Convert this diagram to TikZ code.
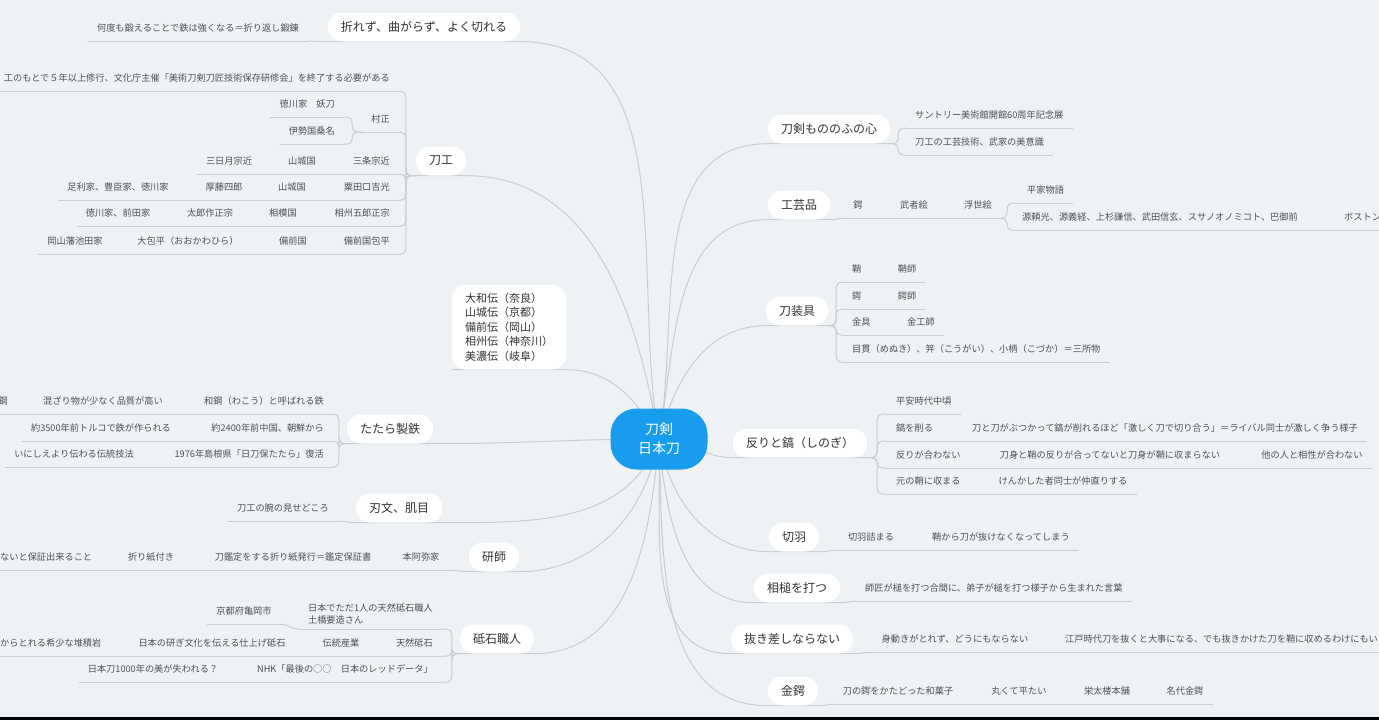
\documentclass[tikz,border=0pt]{standalone}
\usepackage{fontspec}
\setmainfont{Noto Sans CJK JP}
\usepackage{xcolor}
\usepackage{tikz}
\usetikzlibrary{positioning, backgrounds}

\definecolor{bgcol}{RGB}{238,242,245}
\definecolor{linecol}{RGB}{200,205,210}
\definecolor{leaftext}{RGB}{80,80,80}
\definecolor{topictext}{RGB}{50,50,50}
\definecolor{rootblue}{RGB}{24,157,238}

\begin{document}
\begin{tikzpicture}[x=1pt, y=-1pt,
    link/.style={draw=linecol, line width=1pt},
    brace/.style={link, rounded corners=5pt},
    root/.style={fill=rootblue, text=white, rounded corners=26pt, minimum width=97pt, minimum height=61pt, align=center, font=\fontsize{14}{19}\selectfont},
    topic/.style={fill=white, text=topictext, rounded corners=14pt, minimum height=29pt, inner xsep=13pt, inner ysep=0pt, font=\fontsize{12}{14}\selectfont},
    leaf/.style={text=leaftext, minimum height=26pt, inner xsep=9pt, inner ysep=0pt, font=\fontsize{9.2}{11.5}\selectfont,
      append after command={(\tikzlastnode.south west) edge[link] (\tikzlastnode.south east)}}]
          \useasboundingbox (0,0) rectangle (1379,720);
          \begin{scope}[on background layer]
            \fill[bgcol] (0,0) rectangle (1379,720);
          \end{scope}

          \node[root] (root) at (659,439) {刀剣\\日本刀};

          \node[topic] (orezu) at (424,27) {折れず、曲がらず、よく切れる};
          \node[leaf] (tanren) at (198,28) {何度も鍛えることで鉄は強くなる＝折り返し鍛錬};

          \node[topic] (toko) at (441,161) {刀工};
          \node[leaf, anchor=east] (shugyo) at (399,78) {工のもとで５年以上修行、文化庁主催「美術刀剣刀匠技術保存研修会」を終了する必要がある};
          \node[leaf, anchor=east] (muramasa) at (399,119) {村正};
          \node[leaf, anchor=east] (yoto) at (344,104) {徳川家　妖刀};
          \node[leaf, anchor=east] (kuwana) at (344,131) {伊勢国桑名};
          \node[leaf, anchor=east] (sanjo) at (399,161) {三条宗近};
          \node[leaf] (yamashiro) at (302,161) {山城国};
          \node[leaf] (mikazuki) at (229,161) {三日月宗近};
          \node[leaf, anchor=east] (awataguchi) at (399,187) {粟田口吉光};
          \node[leaf] (yamashiroB) at (292,187) {山城国};
          \node[leaf] (toshiro) at (224,187) {厚藤四郎};
          \node[leaf] (ashikaga) at (118,187) {足利家、豊臣家、徳川家};
          \node[leaf, anchor=east] (masamune) at (399,213) {相州五郎正宗};
          \node[leaf] (sagami) at (283,213) {相模国};
          \node[leaf] (tarosaku) at (210,213) {太郎作正宗};
          \node[leaf] (maeda) at (118,213) {徳川家、前田家};
          \node[leaf, anchor=east] (kanehira) at (399,241) {備前国包平};
          \node[leaf] (bizen) at (293,241) {備前国};
          \node[leaf] (okanehira) at (188,241) {大包平（おおかわひら）};
          \node[leaf] (ikeda) at (75,241) {岡山藩池田家};

          \node[topic, align=left, font=\fontsize{11}{14.5}\selectfont, minimum height=85pt] (gokaden) at (509,327) {大和伝（奈良）\\山城伝（京都）\\備前伝（岡山）\\相州伝（神奈川）\\美濃伝（岐阜）};

          \node[topic] (tatara) at (390,429) {たたら製鉄};
          \node[leaf, anchor=east] (wako) at (333,401) {和鋼（わこう）と呼ばれる鉄};
          \node[leaf] (hinshitsu) at (103,401) {混ざり物が少なく品質が高い};
          \node[leaf, anchor=east] (hagane) at (17,401) {鋼};
          \node[leaf, anchor=east] (chugoku) at (333,428) {約2400年前中国、朝鮮から};
          \node[leaf] (turkey) at (101,428) {約3500年前トルコで鉄が作られる};
          \node[leaf, anchor=east] (fukkatsu) at (333,454) {1976年島根県「日刀保たたら」復活};
          \node[leaf] (dento) at (74,454) {いにしえより伝わる伝統技法};

          \node[topic] (hamon) at (399,508) {刃文、肌目};
          \node[leaf] (misedokoro) at (283,508) {刀工の腕の見せどころ};

          \node[topic] (togishi) at (494,557) {研師};
          \node[leaf] (honami) at (421,557) {本阿弥家};
          \node[leaf] (kanteisho) at (293,557) {刀鑑定をする折り紙発行＝鑑定保証書};
          \node[leaf] (origami) at (151,557) {折り紙付き};
          \node[leaf, anchor=west] (hosho) at (-9,557) {ないと保証出来ること};

          \node[topic] (toishi) at (497,639) {砥石職人};
          \node[leaf, anchor=east, align=left, minimum height=30pt] (tsuchihashi) at (442,614) {日本でただ1人の天然砥石職人\\土橋要造さん};
          \node[leaf] (kameoka) at (244,611) {京都府亀岡市};
          \node[leaf, anchor=east] (tennen) at (442,643) {天然砥石};
          \node[leaf] (sangyo) at (341,643) {伝統産業};
          \node[leaf] (shiage) at (212,643) {日本の研ぎ文化を伝える仕上げ砥石};
          \node[leaf, anchor=west] (taisekigan) at (-9,643) {からとれる希少な堆積岩};
          \node[leaf, anchor=east] (nhk) at (442,669) {NHK「最後の○○　日本のレッドデータ」};
          \node[leaf] (ushinawareru) at (153,669) {日本刀1000年の美が失われる？};

          \node[topic] (mononofu) at (829,129) {刀剣もののふの心};
          \node[leaf, anchor=west] (suntory) at (906,115) {サントリー美術館開館60周年記念展};
          \node[leaf, anchor=west] (bigaku) at (906,142) {刀工の工芸技術、武家の美意識};

          \node[topic] (kogeihin) at (799,205) {工芸品};
          \node[leaf] (tsubaA) at (858,205) {鍔};
          \node[leaf] (mushae) at (914,205) {武者絵};
          \node[leaf] (ukiyoe) at (978,205) {浮世絵};
          \node[leaf, anchor=west] (heike) at (1018,190) {平家物語};
          \node[leaf, anchor=west] (eiyu) at (1013,217) {源頼光、源義経、上杉謙信、武田信玄、スサノオノミコト、巴御前};
          \node[leaf, anchor=west] (boston) at (1335,217) {ボストン};

          \node[topic] (tosogu) at (797,311) {刀装具};
          \node[leaf, anchor=west] (saya) at (843,269) {鞘};
          \node[leaf] (sayashi) at (907,269) {鞘師};
          \node[leaf, anchor=west] (tsubaB) at (843,296) {鍔};
          \node[leaf] (tsubashi) at (907,296) {鍔師};
          \node[leaf, anchor=west] (kanagu) at (843,322) {金具};
          \node[leaf] (kinkoshi) at (921,322) {金工師};
          \node[leaf, anchor=west] (mitokoro) at (843,349) {目貫（めぬき）、笄（こうがい）、小柄（こづか）＝三所物};

          \node[topic] (sori) at (800,443) {反りと鎬（しのぎ）};
          \node[leaf, anchor=west] (heian) at (887,401) {平安時代中頃};
          \node[leaf, anchor=west] (shinogi) at (887,428) {鎬を削る};
          \node[leaf] (kezuru) at (1165,428) {刀と刀がぶつかって鎬が削れるほど「激しく刀で切り合う」＝ライバル同士が激しく争う様子};
          \node[leaf, anchor=west] (soriga) at (887,455) {反りが合わない};
          \node[leaf] (osamaranai) at (1110,455) {刀身と鞘の反りが合ってないと刀身が鞘に収まらない};
          \node[leaf] (aisho) at (1312,455) {他の人と相性が合わない};
          \node[leaf, anchor=west] (motonosaya) at (887,481) {元の鞘に収まる};
          \node[leaf] (nakanaori) at (1063,481) {けんかした者同士が仲直りする};

          \node[topic] (seppa) at (794,537) {切羽};
          \node[leaf] (seppatsumaru) at (871,537) {切羽詰まる};
          \node[leaf] (nukenaku) at (1001,537) {鞘から刀が抜けなくなってしまう};

          \node[topic] (aizuchi) at (797,588) {相槌を打つ};
          \node[leaf, anchor=west] (kotoba) at (856,588) {師匠が槌を打つ合間に、弟子が槌を打つ様子から生まれた言葉};

          \node[topic] (nukisashi) at (792,639) {抜き差しならない};
          \node[leaf] (miugoki) at (955,639) {身動きがとれず、どうにもならない};
          \node[leaf, anchor=west] (edo) at (1056,639) {江戸時代刀を抜くと大事になる、でも抜きかけた刀を鞘に収めるわけにもい};

          \node[topic] (kintsuba) at (793,691) {金鍔};
          \node[leaf] (wagashi) at (898,691) {刀の鍔をかたどった和菓子};
          \node[leaf] (hiratai) at (1019,691) {丸くて平たい};
          \node[leaf] (eitaro) at (1107,691) {栄太楼本舗};
          \node[leaf] (nadai) at (1185,691) {名代金鍔};

          \begin{scope}[on background layer]
            \draw[link] (root.center) to[out=100, in=0] (orezu.south east) -- (orezu.south west);
            \draw[link] (root.center) to[out=100, in=0] (toko.south east) -- (toko.south west);
            \draw[link] (root.center) to[out=120, in=0] (gokaden.south east) -- (gokaden.south west);
            \draw[link] (root.center) to[out=180, in=0] (tatara.south east) -- (tatara.south west);
            \draw[link] (root.center) to[out=250, in=0] (hamon.south east) -- (hamon.south west);
            \draw[link] (root.center) to[out=260, in=0] (togishi.south east) -- (togishi.south west);
            \draw[link] (root.center) to[out=265, in=0] (toishi.south east) -- (toishi.south west);
            \draw[link] (root.center) to[out=80, in=180] (mononofu.south west) -- (mononofu.south east);
            \draw[link] (root.center) to[out=80, in=180] (kogeihin.south west) -- (kogeihin.south east);
            \draw[link] (root.center) to[out=75, in=180] (tosogu.south west) -- (tosogu.south east);
            \draw[link] (root.center) to[out=0, in=180] (sori.south west) -- (sori.south east);
            \draw[link] (root.center) to[out=-80, in=180] (seppa.south west) -- (seppa.south east);
            \draw[link] (root.center) to[out=-85, in=180] (aizuchi.south west) -- (aizuchi.south east);
            \draw[link] (root.center) to[out=-88, in=180] (nukisashi.south west) -- (nukisashi.south east);
            \draw[link] (root.center) to[out=-88, in=180] (kintsuba.south west) -- (kintsuba.south east);

            \draw[link] (orezu.south west) to[out=180, in=0] (tanren.south east);

            \draw[brace] (toko.south west) -- ++(-10,0) |- (shugyo.south east);
            \draw[brace] (toko.south west) -- ++(-10,0) |- (muramasa.south east);
            \draw[brace] (toko.south west) -- ++(-10,0) |- (sanjo.south east);
            \draw[brace] (toko.south west) -- ++(-10,0) |- (awataguchi.south east);
            \draw[brace] (toko.south west) -- ++(-10,0) |- (masamune.south east);
            \draw[brace] (toko.south west) -- ++(-10,0) |- (kanehira.south east);
            \draw[brace] (muramasa.south west) -- ++(-10,0) |- (yoto.south east);
            \draw[brace] (muramasa.south west) -- ++(-10,0) |- (kuwana.south east);
            \draw[link] (sanjo.south west) -- (yamashiro.south east);
            \draw[link] (yamashiro.south west) -- (mikazuki.south east);
            \draw[link] (awataguchi.south west) -- (yamashiroB.south east);
            \draw[link] (yamashiroB.south west) -- (toshiro.south east);
            \draw[link] (toshiro.south west) -- (ashikaga.south east);
            \draw[link] (masamune.south west) -- (sagami.south east);
            \draw[link] (sagami.south west) -- (tarosaku.south east);
            \draw[link] (tarosaku.south west) -- (maeda.south east);
            \draw[link] (kanehira.south west) -- (bizen.south east);
            \draw[link] (bizen.south west) -- (okanehira.south east);
            \draw[link] (okanehira.south west) -- (ikeda.south east);

            \draw[brace] (tatara.south west) -- ++(-8,0) |- (wako.south east);
            \draw[brace] (tatara.south west) -- ++(-8,0) |- (chugoku.south east);
            \draw[brace] (tatara.south west) -- ++(-8,0) |- (fukkatsu.south east);
            \draw[link] (wako.south west) -- (hinshitsu.south east);
            \draw[link] (hinshitsu.south west) -- (hagane.south east);
            \draw[link] (chugoku.south west) -- (turkey.south east);
            \draw[link] (fukkatsu.south west) -- (dento.south east);

            \draw[link] (hamon.south west) to[out=180, in=0] (misedokoro.south east);

            \draw[link] (togishi.south west) to[out=180, in=0] (honami.south east);
            \draw[link] (honami.south west) -- (kanteisho.south east);
            \draw[link] (kanteisho.south west) -- (origami.south east);
            \draw[link] (origami.south west) -- (hosho.south east);

            \draw[brace] (toishi.south west) -- ++(-8,0) |- (tsuchihashi.south east);
            \draw[brace] (toishi.south west) -- ++(-8,0) |- (tennen.south east);
            \draw[brace] (toishi.south west) -- ++(-8,0) |- (nhk.south east);
            \draw[link] (tsuchihashi.south west) to[out=180, in=0] (kameoka.south east);
            \draw[link] (tennen.south west) -- (sangyo.south east);
            \draw[link] (sangyo.south west) -- (shiage.south east);
            \draw[link] (shiage.south west) -- (taisekigan.south east);
            \draw[link] (nhk.south west) -- (ushinawareru.south east);

            \draw[brace] (mononofu.south east) -- ++(8,0) |- (suntory.south west);
            \draw[brace] (mononofu.south east) -- ++(8,0) |- (bigaku.south west);

            \draw[link] (kogeihin.south east) to[out=0, in=180] (tsubaA.south west);
            \draw[link] (tsubaA.south east) -- (mushae.south west);
            \draw[link] (mushae.south east) -- (ukiyoe.south west);
            \draw[brace] (ukiyoe.south east) -- ++(6,0) |- (heike.south west);
            \draw[brace] (ukiyoe.south east) -- ++(6,0) |- (eiyu.south west);
            \draw[link] (eiyu.south east) -- (boston.south west);

            \draw[brace] (tosogu.south east) -- ++(8,0) |- (saya.south west);
            \draw[brace] (tosogu.south east) -- ++(8,0) |- (tsubaB.south west);
            \draw[brace] (tosogu.south east) -- ++(8,0) |- (kanagu.south west);
            \draw[brace] (tosogu.south east) -- ++(8,0) |- (mitokoro.south west);
            \draw[link] (saya.south east) -- (sayashi.south west);
            \draw[link] (tsubaB.south east) -- (tsubashi.south west);
            \draw[link] (kanagu.south east) -- (kinkoshi.south west);

            \draw[brace] (sori.south east) -- ++(10,0) |- (heian.south west);
            \draw[brace] (sori.south east) -- ++(10,0) |- (shinogi.south west);
            \draw[brace] (sori.south east) -- ++(10,0) |- (soriga.south west);
            \draw[brace] (sori.south east) -- ++(10,0) |- (motonosaya.south west);
            \draw[link] (shinogi.south east) -- (kezuru.south west);
            \draw[link] (soriga.south east) -- (osamaranai.south west);
            \draw[link] (osamaranai.south east) -- (aisho.south west);
            \draw[link] (motonosaya.south east) -- (nakanaori.south west);

            \draw[link] (seppa.south east) to[out=0, in=180] (seppatsumaru.south west);
            \draw[link] (seppatsumaru.south east) -- (nukenaku.south west);
            \draw[link] (aizuchi.south east) to[out=0, in=180] (kotoba.south west);
            \draw[link] (nukisashi.south east) to[out=0, in=180] (miugoki.south west);
            \draw[link] (miugoki.south east) -- (edo.south west);
            \draw[link] (kintsuba.south east) to[out=0, in=180] (wagashi.south west);
            \draw[link] (wagashi.south east) -- (hiratai.south west);
            \draw[link] (hiratai.south east) -- (eitaro.south west);
            \draw[link] (eitaro.south east) -- (nadai.south west);
          \end{scope}

          \fill[black] (0,717) rectangle (1379,720);
        \end{tikzpicture}
\end{document}
